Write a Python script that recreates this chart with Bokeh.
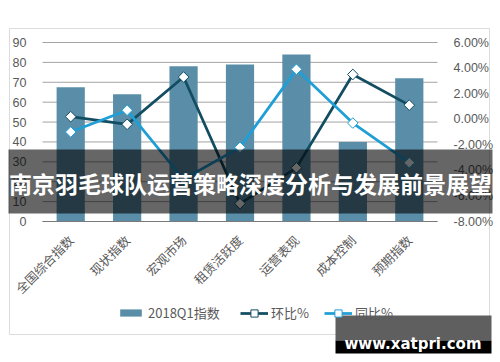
import math
from bokeh.plotting import figure
from bokeh.models import (Range1d, LinearAxis, FixedTicker, PrintfTickFormatter,
                          Legend, LegendItem, BoxAnnotation, Label, ColumnDataSource)
from bokeh.embed import file_html
from bokeh.resources import INLINE

categories = ["全国综合指数", "现状指数", "宏观市场", "租赁活跃度", "运营表现", "成本控制", "预期指数"]
index_2018q1 = [67.5, 64, 78, 79, 84, 40, 72]
huanbi_pct = [0.2, -0.4, 3.3, -6.6, -3.8, 3.5, 1.1]
tongbi_pct = [-1.0, 0.7, -4.7, -2.2, 3.9, -0.3, -3.4]
left_ticks = [0, 10, 20, 30, 40, 50, 60, 70, 80, 90]
right_ticks = [-8, -6, -4, -2, 0, 2, 4, 6]
banner_text = "南京羽毛球队运营策略深度分析与发展前景展望"
watermark_text = "www.xatpri.com"

BAR = "#5a8ea8"
DARK = "#124d62"
LIGHT = "#1f9fd5"
TXT = "#595959"
GRID = "#a3a3a3"
CJK = "Noto Sans CJK SC"
NUM = "Liberation Sans"

# layout (page pixels); the frame fills the whole canvas, plot area is x 42..437, y 42..221
W, H = 500, 362
PL, PR, PT, PB = 42, 437, 42, 221
n = len(categories)
xpos = list(range(n))
ux = (PR - PL) / n                      # px per category
x0, x1 = -0.5, n - 0.5                  # plot-area edges in x data units
L0, L1 = left_ticks[0], left_ticks[-1]
R0, R1 = right_ticks[0], right_ticks[-1]
uyl = (PB - PT) / (L1 - L0)
uyr = (PB - PT) / (R1 - R0)

p = figure(width=W, height=H, output_backend="svg", toolbar_location=None,
           x_axis_type=None, y_axis_type=None,
           x_range=Range1d(x0 - PL / ux, x1 + (W - PR) / ux),
           y_range=Range1d(L0 - (H - PB) / uyl, L1 + PT / uyl),
           min_border=0, min_border_left=0, min_border_right=0, min_border_top=0, min_border_bottom=0)
p.extra_y_ranges = {"pct": Range1d(R0 - (H - PB) / uyr, R1 + PT / uyr)}
p.outline_line_color = None
p.background_fill_color = "white"
p.border_fill_color = "white"
p.grid.visible = False

# grid lines at the left-axis ticks, limited to the plot area
p.segment(x0=[x0] * len(left_ticks), x1=[x1] * len(left_ticks), y0=left_ticks, y1=left_ticks,
          line_color=GRID, line_width=1)

# axes
la = LinearAxis(ticker=FixedTicker(ticks=left_ticks), fixed_location=x0, bounds=(L0, L1))
la.axis_line_color = None
la.major_tick_line_color = None
la.minor_tick_line_color = None
la.major_label_standoff = 10
la.major_label_text_font = NUM
la.major_label_text_font_size = "12.5px"
la.major_label_text_color = TXT
p.add_layout(la, "left")

ra = LinearAxis(y_range_name="pct", ticker=FixedTicker(ticks=right_ticks), fixed_location=x1,
                bounds=(R0, R1), formatter=PrintfTickFormatter(format="%.2f%%"))
ra.axis_line_color = None
ra.major_tick_line_color = None
ra.minor_tick_line_color = None
ra.major_label_standoff = 10
ra.major_label_text_font = NUM
ra.major_label_text_font_size = "12.5px"
ra.major_label_text_color = TXT
p.add_layout(ra, "right")

ba = LinearAxis(ticker=FixedTicker(ticks=xpos), fixed_location=L0, bounds=(x0, x1))
ba.major_label_overrides = {i: c for i, c in zip(xpos, categories)}
ba.axis_line_color = "#7a7a7a"
ba.axis_line_width = 1
ba.major_tick_line_color = None
ba.minor_tick_line_color = None
ba.major_label_orientation = math.pi / 4
ba.major_label_standoff = 10
ba.major_label_text_font = CJK
ba.major_label_text_font_size = "12.5px"
ba.major_label_text_color = TXT
p.add_layout(ba, "below")

# data
src = ColumnDataSource(dict(x=xpos, idx=index_2018q1, hb=huanbi_pct, tb=tongbi_pct))
bars = p.vbar(x="x", top="idx", bottom=L0, width=0.5, source=src, fill_color=BAR, line_color=None)
hb_line = p.line(x="x", y="hb", source=src, y_range_name="pct", line_color=DARK, line_width=2.75)
hb_pts = p.scatter(x="x", y="hb", source=src, y_range_name="pct", marker="square", angle=math.pi / 4,
                   size=7.5, fill_color="white", line_color=DARK, line_width=1)
tb_line = p.line(x="x", y="tb", source=src, y_range_name="pct", line_color=LIGHT, line_width=2.75)
tb_pts = p.scatter(x="x", y="tb", source=src, y_range_name="pct", marker="square", angle=math.pi / 4,
                   size=7.5, fill_color="white", line_color=LIGHT, line_width=1)

# screen coords measured from the canvas bottom-left
def sy(y):
    return H - y
SCR = dict(left_units="screen", right_units="screen", top_units="screen", bottom_units="screen")

p.add_layout(BoxAnnotation(left=9, right=489, top=sy(28), bottom=sy(334), **SCR,
                           fill_alpha=0, line_color="#8c8c8c", line_width=1, level="annotation"))

leg1 = Legend(items=[LegendItem(label="2018Q1指数", renderers=[bars])],
              location=(117, sy(322)), orientation="horizontal",
              glyph_width=27, glyph_height=9, label_height=18, label_standoff=4, padding=0, margin=0,
              border_line_color=None, background_fill_alpha=0,
              label_text_font=CJK, label_text_font_size="13px", label_text_color=TXT)
leg2 = Legend(items=[LegendItem(label="环比%", renderers=[hb_line, hb_pts]),
                     LegendItem(label="同比%", renderers=[tb_line, tb_pts])],
              location=(240, sy(322)), orientation="horizontal", spacing=15,
              glyph_width=28, glyph_height=18, label_height=18, label_standoff=3, padding=0, margin=0,
              border_line_color=None, background_fill_alpha=0,
              label_text_font=CJK, label_text_font_size="13px", label_text_color=TXT)
p.add_layout(leg1, "center")
p.add_layout(leg2, "center")

p.add_layout(BoxAnnotation(left=8, right=492, top=sy(149), bottom=sy(213), **SCR,
                           fill_color="black", fill_alpha=0.6, line_color=None, level="overlay"))
p.add_layout(Label(x=250, y=sy(182), x_units="screen", y_units="screen", text=banner_text,
                   text_align="center", text_baseline="middle", text_color="white",
                   text_font=CJK, text_font_size="23px", text_font_style="bold", level="overlay"))

p.add_layout(BoxAnnotation(left=335, right=491, top=sy(315), bottom=sy(340), **SCR,
                           fill_color="#5f5f5f", fill_alpha=1, line_color=None, level="overlay"))
p.add_layout(BoxAnnotation(left=335, right=491, top=sy(340), bottom=sy(353), **SCR,
                           fill_color="black", fill_alpha=1, line_color=None, level="overlay"))
p.add_layout(Label(x=412.5, y=sy(343), x_units="screen", y_units="screen", text=watermark_text,
                   text_align="center", text_baseline="alphabetic", text_color="white",
                   text_font="DejaVu Sans", text_font_size="15px", text_font_style="bold", level="overlay"))

open("out.html", "w").write(file_html(p, INLINE))
